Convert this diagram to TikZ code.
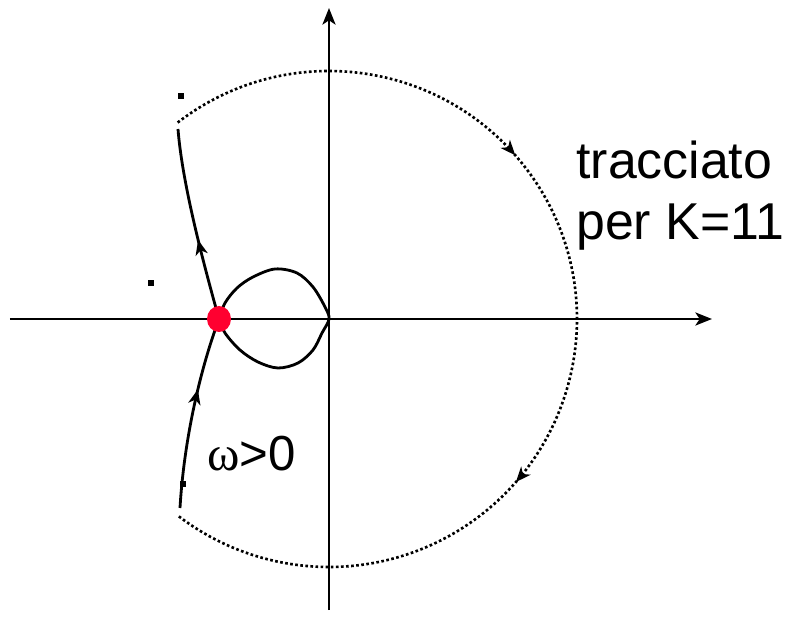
\documentclass[tikz,border=0pt]{standalone}
\usepackage{fontspec}
\setmainfont{Liberation Sans}
\newfontfamily\greekfont{Liberation Serif}
\usepackage{xcolor}
\usetikzlibrary{
    arrows.meta,
    decorations.markings
}
\definecolor{dotred}{RGB}{255,0,48}
\tikzset{
    axis/.style={line width=1.3pt, -{Stealth[length=9.5pt, width=7.5pt, inset=2.5pt]}},
    locus/.style={line width=1.6pt},
    closure/.style={line width=1.5pt, dash pattern=on 1.5pt off 1.4pt},
    midarrow/.style={postaction={decorate}, decoration={markings,
        mark=at position #1 with {\arrow{Stealth[length=8.5pt, width=7pt, inset=2.5pt]}}}},
    pole/.style={fill=black},
    caption/.style={anchor=base west, inner sep=0pt, font=\fontsize{29.5}{35}\selectfont}
}

\begin{document}
\begin{tikzpicture}[x=0.02cm, y=0.02cm]
            \useasboundingbox (-329,-303) rectangle (462,319);
            \coordinate (O) at (0,0);

            % Axes
            \draw[axis] (-319,0) -- (383,0);
            \draw[axis] (0,-291) -- (0,311);

            % Closure at infinity
            \draw[closure, postaction={decorate}, decoration={markings,
                mark=at position 0.338 with {\arrow{Stealth[length=8.5pt, width=7pt, inset=2.5pt]}},
                mark=at position 0.661 with {\arrow{Stealth[length=8.5pt, width=7pt, inset=2.5pt]}}}]
                (127.6:248) arc[start angle=127.6, end angle=-127.6, radius=248];

            % Branches
            \draw[locus, midarrow=0.62] (-149,-189) .. controls (-145,-121) and (-129,-51) .. (-110,0);
            \draw[locus, midarrow=0.42] (-110,0) .. controls (-129,68) and (-147,139) .. (-151,190);

            % Loop
            \draw[locus] plot[smooth, tension=0.55] coordinates {
                (-110,0) (-104,16) (-92,31) (-76,42) (-54,50) (-32,46) (-16,32) (-4,12) (0,0)
                (-7,-14) (-16,-31) (-31,-44) (-51,-49) (-71,-43) (-89,-31) (-104,-14) (-110,0)};

            % Poles
            \fill[pole] (-148,223) ++(-3,-3) rectangle ++(6,6);
            \fill[pole] (-178,36) ++(-3,-3) rectangle ++(6,6);
            \fill[pole] (-146,-165) ++(-3,-3) rectangle ++(6,6);

            % Critical point
            \fill[dotred] (-110,0) ellipse[x radius=12, y radius=13];

            % Labels
            \node[caption] (trc) at (247,140) {tracciato};
            \node[caption] (per) at (247,79) {per K=11};
            \node[caption, font=\fontsize{28}{33}\selectfont] (omg) at (-122,-151) {{\greekfont ω}>0};
        \end{tikzpicture}
\end{document}
